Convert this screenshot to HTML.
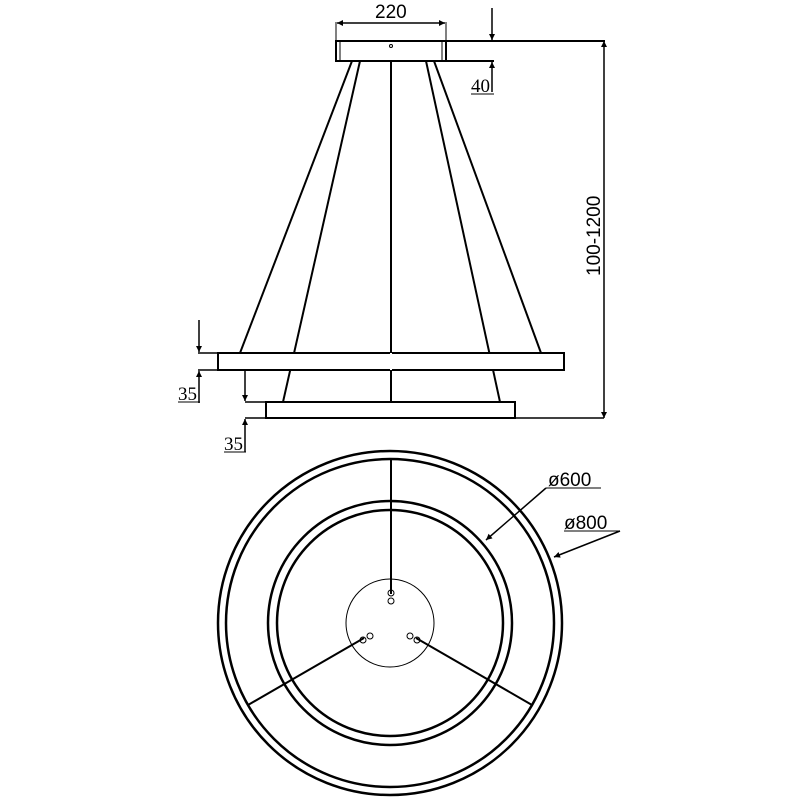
<!DOCTYPE html>
<html><head><style>body{margin:0;background:#fff}svg{display:block}</style></head><body>
<svg width="800" height="800" viewBox="0 0 800 800" xmlns="http://www.w3.org/2000/svg" font-family="Liberation Sans, sans-serif">
<defs><marker id="a" viewBox="0 0 10 10" refX="10" refY="5" markerWidth="8" markerHeight="6" orient="auto-start-reverse" markerUnits="userSpaceOnUse"><path d="M0,0L10,5L0,10z" fill="#000"/></marker></defs>
<g stroke="#000" fill="none" stroke-width="2">
<!-- canopy -->
<rect x="336" y="41" width="110" height="20"/>
<line x1="340" y1="41" x2="340" y2="61" stroke-width="1"/>
<line x1="442" y1="41" x2="442" y2="61" stroke-width="1"/>
<circle cx="391" cy="46" r="1.5" stroke-width="1"/>
<line x1="336" y1="22" x2="336" y2="41" stroke-width="1"/>
<line x1="446" y1="22" x2="446" y2="41" stroke-width="1"/>
<line x1="337" y1="23" x2="445" y2="23" stroke-width="1.5" marker-start="url(#a)" marker-end="url(#a)"/>
<line x1="446" y1="41" x2="605" y2="41"/>
<line x1="446" y1="61" x2="494" y2="61"/>
<line x1="492" y1="8" x2="492" y2="40" stroke-width="1.5" marker-end="url(#a)"/>
<line x1="492" y1="92" x2="492" y2="62" stroke-width="1.5" marker-end="url(#a)"/>
<line x1="471" y1="94" x2="494" y2="94" stroke-width="1"/>
<line x1="604" y1="41" x2="604" y2="418" stroke-width="1.5" marker-start="url(#a)" marker-end="url(#a)"/>
<!-- cables -->
<line x1="352" y1="61" x2="240" y2="353"/>
<line x1="360" y1="61" x2="283" y2="402"/>
<line x1="391" y1="61" x2="391" y2="402"/>
<line x1="426" y1="61" x2="500" y2="402"/>
<line x1="434" y1="61" x2="541" y2="353"/>
<!-- rings side -->
<rect x="218" y="353" width="346" height="17" fill="#fff"/>
<rect x="266" y="402" width="249" height="16" fill="#fff"/>
<line x1="391" y1="353" x2="391" y2="370" stroke="#fff"/>
<line x1="198" y1="353" x2="218" y2="353" stroke-width="1.5"/>
<line x1="198" y1="370" x2="218" y2="370" stroke-width="1.5"/>
<line x1="199" y1="320" x2="199" y2="352" stroke-width="1.5" marker-end="url(#a)"/>
<line x1="199" y1="403" x2="199" y2="371" stroke-width="1.5" marker-end="url(#a)"/>
<line x1="178" y1="402" x2="200" y2="402" stroke-width="1"/>
<line x1="245" y1="402" x2="266" y2="402" stroke-width="1.5"/>
<line x1="245" y1="418" x2="266" y2="418" stroke-width="1.5"/>
<line x1="515" y1="418" x2="604" y2="418" stroke-width="1.5"/>
<line x1="245" y1="370" x2="245" y2="401" stroke-width="1.5" marker-end="url(#a)"/>
<line x1="245" y1="452" x2="245" y2="419" stroke-width="1.5" marker-end="url(#a)"/>
<line x1="224" y1="452" x2="246" y2="452" stroke-width="1"/>
<!-- top view -->
<circle cx="390" cy="623" r="172" stroke-width="2.5"/>
<circle cx="390" cy="623" r="164" stroke-width="2.5"/>
<circle cx="390" cy="623" r="122" stroke-width="2.5"/>
<circle cx="390" cy="623" r="113" stroke-width="2.5"/>
<circle cx="390" cy="623" r="44" stroke-width="1"/>
<line x1="391" y1="459" x2="391" y2="594"/>
<line x1="364" y1="638" x2="248" y2="705"/>
<line x1="416" y1="638" x2="532" y2="705"/>
<g stroke-width="1"><circle cx="391" cy="593" r="3"/><circle cx="391" cy="601" r="3"/>
<circle cx="363" cy="640" r="3"/><circle cx="370" cy="636" r="3"/>
<circle cx="410" cy="636" r="3"/><circle cx="417" cy="640" r="3"/></g>
<line x1="546" y1="488" x2="486" y2="540" stroke-width="1.5" marker-end="url(#a)"/>
<line x1="546" y1="488" x2="601" y2="488" stroke-width="1"/>
<line x1="620" y1="531" x2="554" y2="557" stroke-width="1.5" marker-end="url(#a)"/>
<line x1="564" y1="531" x2="620" y2="531" stroke-width="1"/>
</g>
<g font-size="19" fill="#000">
<text x="375" y="18">220</text>
<text x="471" y="92" font-family="Liberation Serif, serif">40</text>
<text x="178" y="400" font-family="Liberation Serif, serif">35</text>
<text x="224" y="450" font-family="Liberation Serif, serif">35</text>
<text x="548" y="486">ø600</text>
<text x="564" y="529">ø800</text>
<text transform="translate(600,276) rotate(-90)">100-1200</text>
</g>
</svg>
</body></html>
